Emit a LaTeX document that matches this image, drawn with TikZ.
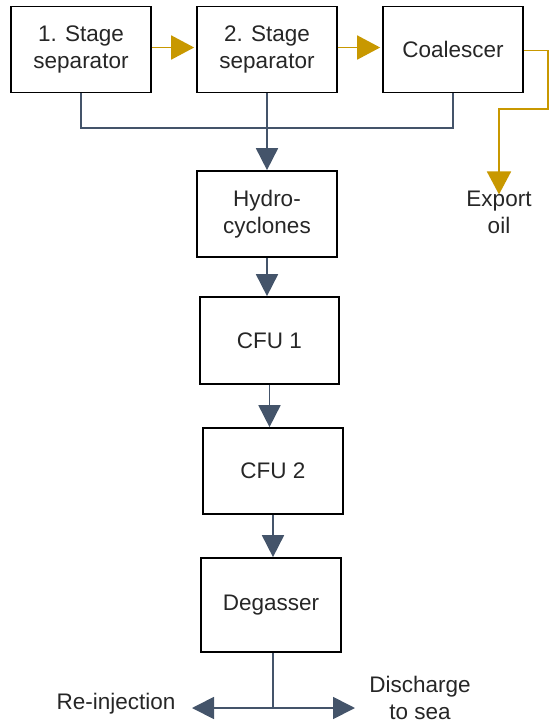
\documentclass[tikz,border=0pt]{standalone}
\usepackage{fontspec}
\setmainfont{Liberation Sans}
\usetikzlibrary{arrows.meta}
\definecolor{flowblue}{HTML}{44546A}
\definecolor{oilgold}{HTML}{C89800}
\definecolor{txt}{HTML}{262626}
\begin{document}
\begin{tikzpicture}[x=1pt,y=-1pt,
  box/.style={draw=black,line width=1.7pt,minimum width=140pt,minimum height=86pt,
    align=center,inner sep=0pt,text=txt,font=\fontsize{22.5}{27}\selectfont},
  lbl/.style={align=center,inner sep=0pt,text=txt,font=\fontsize{22.5}{27}\selectfont},
  wline/.style={draw=flowblue,line width=1.8pt},
  warrow/.style={wline,-{Triangle[length=22pt,width=22pt]}},
  oline/.style={draw=oilgold,line width=1.8pt},
  oarrow/.style={oline,-{Triangle[length=23pt,width=24pt]}}]
\useasboundingbox (0,0) rectangle (549,724);
\node[box] (s1) at (81,49.5) {1. Stage\\separator};
\node[box] (s2) at (267,49.5) {2. Stage\\separator};
\node[box] (co) at (453,49.5) {Coalescer};
\node[box] (hy) at (267,214) {Hydro-\\cyclones};
\node[box,minimum width=139pt,minimum height=87pt] (c1) at (269.5,340.5) {CFU 1};
\node[box] (c2) at (273,471) {CFU 2};
\node[box,minimum height=94pt] (dg) at (271,605) {Degasser};
\node[lbl] (exp) at (499,212) {Export\\oil};
\node[lbl] (ri) at (116,704) {Re-injection};
\node[lbl] (ds) at (420,698) {Discharge\\to sea};
\coordinate (jn) at (81,128);
\coordinate (ob) at (548,109);
\coordinate (sp) at (273,708);
\coordinate (lt) at (192,708);
\coordinate (rt) at (355,708);
% oil path
\draw[oarrow,shorten >=2pt] ([yshift=2pt]s1.east) -- ([yshift=2pt]s2.west);
\draw[oarrow,shorten >=2pt] ([yshift=2pt]s2.east) -- ([yshift=2pt]co.west);
\draw[oarrow] ([yshift=-1pt]co.east) -| (ob) -| ([yshift=-4pt]exp.north);
% water path
\draw[wline] (s1.south) -- (jn) -| (co.south);
\draw[warrow] (s2.south) -- (hy.north);
\draw[warrow] (hy.south) -- (hy.south |- c1.north);
\draw[warrow] (c1.south) -- (c1.south |- c2.north);
\draw[warrow] (c2.south) -- (c2.south |- dg.north);
\draw[wline] (dg.south -| sp) -- (sp);
\draw[warrow] (sp) -- (lt);
\draw[warrow] (sp) -- (rt);
\end{tikzpicture}
\end{document}
